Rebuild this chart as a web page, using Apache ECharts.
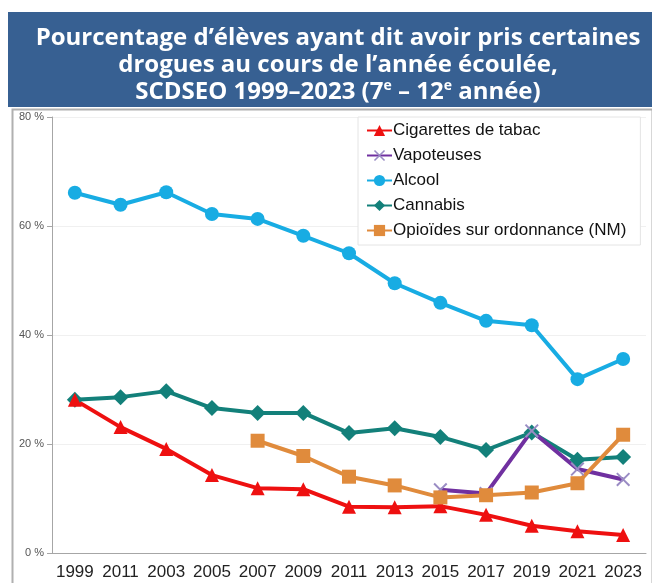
<!DOCTYPE html>
<html>
<head>
<meta charset="utf-8">
<script src="https://cdn.jsdelivr.net/npm/echarts@6/dist/echarts.min.js"></script>
<style>
  html, body { margin: 0; padding: 0; background: #fff; }
  #my_chart { width: 652px; height: 583px; }
</style>
</head>
<body>
<div id="my_chart"></div>
<script>
  // années (telles qu'affichées sur l'axe)
  var years = ['1999', '2011', '2003', '2005', '2007', '2009', '2011', '2013', '2015', '2017', '2019', '2021', '2023'];

  var cigarettes = [28.1, 23.1, 19.1, 14.3, 11.9, 11.7, 8.5, 8.4, 8.6, 7.0, 5.0, 4.0, 3.3];
  var vapoteuses = [null, null, null, null, null, null, null, null, 11.6, 10.9, 22.4, 15.4, 13.5];
  var alcool = [66.1, 63.9, 66.2, 62.2, 61.3, 58.2, 55.0, 49.5, 45.9, 42.6, 41.8, 31.9, 35.6];
  var cannabis = [28.1, 28.6, 29.7, 26.6, 25.7, 25.7, 22.0, 22.9, 21.3, 18.9, 22.1, 17.1, 17.6];
  var opioides = [null, null, null, null, 20.6, 17.8, 14.0, 12.4, 10.2, 10.6, 11.1, 12.8, 21.7];

  var yTicks = [0, 20, 40, 60, 80];

  var crossPath = 'path://M0,1L1,0L10,9L9,10Z M9,0L10,1L1,10L0,9Z';

  var my_chart = echarts.init(document.getElementById('my_chart'));

  function lineSeries(name, data, color, symbol, size, extra) {
    var s = {
      name: name,
      type: 'line',
      data: data,
      symbol: symbol,
      symbolSize: size,
      showAllSymbol: true,
      connectNulls: false,
      lineStyle: { color: color, width: 4 },
      itemStyle: { color: color }
    };
    if (extra) Object.assign(s, extra);
    return s;
  }

  my_chart.setOption({
    animation: false,
    backgroundColor: '#fff',
    graphic: [
      {
        type: 'rect', left: 8, top: 12, z: -1,
        shape: { width: 644, height: 95 },
        style: { fill: '#376092' }
      },
      {
        type: 'rect', left: 10, top: 107, z: -1,
        shape: { width: 640, height: 478 },
        style: { fill: 'none', stroke: '#b0b0b0', lineWidth: 2 }
      }
    ],
    title: {
      text: 'Pourcentage d’élèves ayant dit avoir pris certaines\ndrogues au cours de l’année écoulée,\nSCDSEO 1999–2023 (7{sup|e} – 12{sup|e} année)',
      left: 333,
      top: 20,
      textAlign: 'center',
      textStyle: {
        color: '#fff',
        fontFamily: 'Open Sans',
        fontWeight: 'bold',
        fontSize: 24,
        lineHeight: 27,
        rich: {
          sup: { color: '#fff', fontFamily: 'Open Sans', fontWeight: 'bold', fontSize: 14, lineHeight: 27, verticalAlign: 'top' }
        }
      }
    },
    legend: {
      orient: 'vertical',
      left: 358,
      top: 117,
      itemWidth: 25,
      itemHeight: 14,
      itemGap: 8,
      padding: [5, 14, 6, 8],
      backgroundColor: '#fff',
      borderColor: '#e4e4e4',
      borderWidth: 1,
      textStyle: { fontFamily: 'Liberation Sans', fontSize: 17, color: '#111', padding: [0, 0, 0, -4] },
      data: ['Cigarettes de tabac', 'Vapoteuses', 'Alcool', 'Cannabis', 'Opioïdes sur ordonnance (NM)']
    },
    grid: { left: 52, right: 6, top: 117, bottom: 30, containLabel: false },
    xAxis: {
      type: 'category',
      data: years,
      boundaryGap: true,
      axisLine: { lineStyle: { color: '#a6a6a6' } },
      axisTick: { alignWithLabel: true, length: 6, lineStyle: { color: '#a6a6a6' } },
      axisLabel: { color: '#222', fontFamily: 'Liberation Sans', fontSize: 17, margin: 11, interval: 0 }
    },
    yAxis: {
      type: 'value',
      min: yTicks[0],
      max: yTicks[yTicks.length - 1],
      interval: 20,
      axisLine: { show: true, lineStyle: { color: '#a6a6a6' } },
      axisTick: { show: true, length: 5, inside: false, lineStyle: { color: '#a6a6a6' } },
      axisLabel: { color: '#555', fontFamily: 'Liberation Sans', fontSize: 11, margin: 8, formatter: '{value} %' },
      splitLine: { lineStyle: { color: '#f0f0f0' } }
    },
    series: [
      lineSeries('Cannabis', cannabis, '#13807a', 'diamond', 16),
      lineSeries('Alcool', alcool, '#18ace3', 'circle', 14),
      lineSeries('Cigarettes de tabac', cigarettes, '#ee1010', 'triangle', 14),
      lineSeries('Vapoteuses', vapoteuses, '#7030a0', crossPath, 14, {
        itemStyle: { color: '#9a8cc4' }
      }),
      lineSeries('Opioïdes sur ordonnance (NM)', opioides, '#e08b3c', 'rect', 14)
    ]
  });
</script>
</body>
</html>
